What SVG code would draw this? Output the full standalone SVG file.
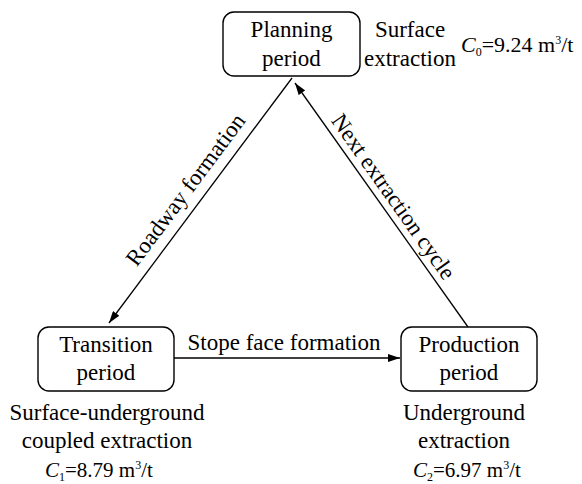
<svg xmlns="http://www.w3.org/2000/svg" width="582" height="484" viewBox="0 0 582 484">
<style>
text{font-family:'Liberation Serif','Times New Roman',Times,serif;font-size:23px;fill:#000}
.box{fill:#fff;stroke:#000;stroke-width:1.4}
.ln{stroke:#000;stroke-width:1.3;fill:none}
.c0{font-size:22px}
.c12{font-size:21px}
.sub{font-size:12px}
.it{font-style:italic}
</style>
<defs>
<marker id="ah" viewBox="0 0 12 8" refX="12" refY="4" markerWidth="12" markerHeight="8" markerUnits="userSpaceOnUse" orient="auto">
<path d="M0,0 L12,4 L0,8 Z" fill="#000"/>
</marker>
</defs>
<rect width="582" height="484" fill="#fff"/>
<g id="connectors">
<line class="ln" x1="292" y1="78" x2="109" y2="323" marker-end="url(#ah)"/>
<line class="ln" x1="174" y1="358" x2="400" y2="358" marker-end="url(#ah)"/>
<line class="ln" x1="468" y1="327" x2="295" y2="83" marker-end="url(#ah)"/>
<text transform="translate(186,190) rotate(-53.2)" text-anchor="middle" dy="7">Roadway formation</text>
<text x="284" y="350" text-anchor="middle">Stope face formation</text>
<text transform="translate(393,197) rotate(54.7)" text-anchor="middle" dy="7">Next extraction cycle</text>
</g>
<g id="planning">
<rect class="box" x="223" y="12" width="137" height="64" rx="11"/>
<text x="291.5" y="37" text-anchor="middle">Planning</text>
<text x="291.5" y="66" text-anchor="middle">period</text>
<text x="410" y="37" text-anchor="middle">Surface</text>
<text x="410" y="66" text-anchor="middle">extraction</text>
<text class="c0" x="461" y="52"><tspan class="it">C</tspan><tspan class="sub" dy="4">0</tspan><tspan dy="-4">=9.24 m</tspan><tspan class="sub" dy="-8">3</tspan><tspan dy="8">/t</tspan></text>
</g>
<g id="transition">
<rect class="box" x="38" y="327" width="136" height="64" rx="11"/>
<text x="106" y="352" text-anchor="middle">Transition</text>
<text x="106" y="380" text-anchor="middle">period</text>
<text x="107" y="420" text-anchor="middle">Surface-underground</text>
<text x="107" y="448" text-anchor="middle">coupled extraction</text>
<text class="c12" x="45" y="477"><tspan class="it">C</tspan><tspan class="sub" dy="4">1</tspan><tspan dy="-4">=8.79 m</tspan><tspan class="sub" dy="-8">3</tspan><tspan dy="8">/t</tspan></text>
</g>
<g id="production">
<rect class="box" x="401" y="327" width="136" height="64" rx="11"/>
<text x="469" y="352" text-anchor="middle">Production</text>
<text x="469" y="380" text-anchor="middle">period</text>
<text x="464" y="420" text-anchor="middle">Underground</text>
<text x="464" y="448" text-anchor="middle">extraction</text>
<text class="c12" x="413" y="477"><tspan class="it">C</tspan><tspan class="sub" dy="4">2</tspan><tspan dy="-4">=6.97 m</tspan><tspan class="sub" dy="-8">3</tspan><tspan dy="8">/t</tspan></text>
</g>
</svg>
